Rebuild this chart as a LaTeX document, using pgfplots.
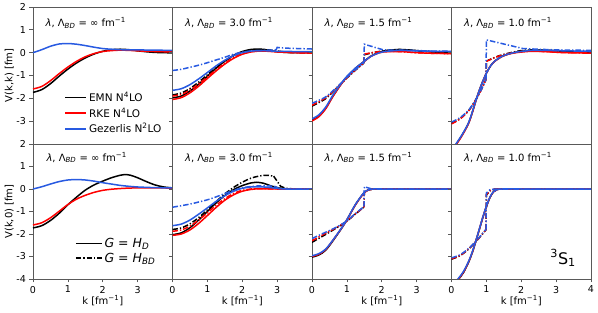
\documentclass[border=0pt]{standalone}
\usepackage{fontspec}
\setmainfont{DejaVu Sans}
\usepackage{pgfplots}
\pgfplotsset{compat=1.18}
\definecolor{myblue}{RGB}{40,90,225}
\newcommand{\lam}[1]{\textit{λ}, Λ\textsubscript{\textit{BD}} = #1 fm\textsuperscript{−1}}
\tikzset{ptext/.style={anchor=west, font=\fontsize{10}{11}\selectfont}}
\pgfplotsset{
 emn/.style={black, line width=1.5pt},
 rke/.style={red, line width=1.5pt},
 gez/.style={myblue, line width=1.5pt},
 dd/.style={dash pattern=on 5.5pt off 2pt on 1.3pt off 2pt},
 sm/.style={smooth, tension=0.5},
 panel/.style={scale only axis, width=139.5pt, xmin=0, xmax=4, ymin=-4, ymax=2,
   axis line style={black!65, line width=0.8pt},
   tick align=outside, xtick pos=bottom, ytick pos=left, major tick length=3.5pt,
   tick style={black!65, line width=0.7pt},
   ticklabel style={font=\fontsize{9.5}{10}\selectfont},
   /pgf/number format/assume math mode=true,
   ytick={-4,...,2},
   label style={font=\fontsize{13}{14}\selectfont},
   every axis y label/.style={at={(axis description cs:-0.17,0.5)}, rotate=90, anchor=center},
   every axis x label/.style={at={(axis description cs:0.5,-0.162)}, anchor=center},
 },
 toprow/.style={panel, height=137pt, xtick=\empty},
 botrow/.style={panel, height=135pt, xlabel={k [fm\textsuperscript{−1}]}, xtick={0,1,2,3}},
}
\begin{document}
\begin{tikzpicture}
\useasboundingbox (0,0) rectangle (598pt,313pt);
%================ TOP ROW =================
\begin{axis}[toprow, at={(33pt,169pt)}, anchor=south west, ytick={-3,...,2}, ylabel={V(k,k) [fm]},
  legend style={at={(0.225,0.395)}, anchor=north west, draw=none, fill=none, font=\fontsize{10.5}{11}\selectfont, inner sep=0pt, row sep=0.8pt, /tikz/every even column/.append style={column sep=7pt}},
  legend cell align=left,
  legend image code/.code={\draw[#1] (0pt,0pt) -- (21pt,0pt);}]
\addlegendimage{emn}\addlegendentry{EMN N\textsuperscript{4}LO}
\addlegendimage{rke}\addlegendentry{RKE N\textsuperscript{4}LO}
\addlegendimage{gez}\addlegendentry{Gezerlis N\textsuperscript{2}LO}
\addplot[emn,sm] coordinates {(0,-1.74)(0.25,-1.62)(0.5,-1.36)(0.75,-1.03)(1,-0.72)(1.25,-0.45)(1.5,-0.23)(1.75,-0.06)(2,0.06)(2.25,0.13)(2.5,0.15)(2.75,0.13)(3,0.08)(3.25,0.04)(3.5,0.01)(3.75,0)(4,-0.01)};
\addplot[rke,sm] coordinates {(0,-1.59)(0.25,-1.48)(0.5,-1.23)(0.75,-0.92)(1,-0.63)(1.25,-0.38)(1.5,-0.18)(1.75,-0.04)(2,0.05)(2.25,0.09)(2.5,0.11)(2.75,0.1)(3,0.08)(3.25,0.06)(3.5,0.05)(3.75,0.04)(4,0.03)};
\addplot[gez,sm] coordinates {(0,0)(0.25,0.13)(0.5,0.28)(0.75,0.38)(1,0.4)(1.25,0.37)(1.5,0.31)(1.75,0.24)(2,0.18)(2.25,0.15)(2.5,0.13)(2.75,0.12)(3,0.12)(3.5,0.11)(4,0.1)};
\node[ptext] at (rel axis cs:0.065,0.883) {\lam{∞}};
\end{axis}

\begin{axis}[toprow, at={(172.5pt,169pt)}, anchor=south west, yticklabels={}]
\addplot[emn,sm] coordinates {(0,-1.98)(0.25,-1.9)(0.5,-1.68)(0.75,-1.38)(1,-1.03)(1.25,-0.68)(1.5,-0.37)(1.75,-0.12)(2,0.05)(2.25,0.14)(2.5,0.16)(2.75,0.11)(3,0.04)(3.25,0.01)(3.5,0)(4,0)};
\addplot[emn,dd,sm] coordinates {(0,-1.85)(0.25,-1.77)(0.5,-1.57)(0.75,-1.29)(1,-0.97)(1.25,-0.65)(1.5,-0.37)(1.75,-0.14)(2,0.02)(2.25,0.1)(2.5,0.13)(2.75,0.12)(3,0.07)(3.25,0.03)(3.5,0.01)(4,0)};
\addplot[rke,sm] coordinates {(0,-2.05)(0.25,-1.97)(0.5,-1.76)(0.75,-1.47)(1,-1.13)(1.25,-0.8)(1.5,-0.5)(1.75,-0.25)(2,-0.07)(2.25,0.03)(2.5,0.07)(2.75,0.06)(3,0.03)(3.5,0)(4,-0.02)};
\addplot[rke,dd,sm] coordinates {(0,-1.9)(0.25,-1.83)(0.5,-1.64)(0.75,-1.37)(1,-1.06)(1.25,-0.75)(1.5,-0.46)(1.75,-0.22)(2,-0.05)(2.25,0.04)(2.5,0.07)(2.75,0.07)(3,0.05)(3.5,0)(4,-0.02)};
\addplot[gez,sm] coordinates {(0,-1.65)(0.25,-1.58)(0.5,-1.4)(0.75,-1.15)(1,-0.87)(1.25,-0.58)(1.5,-0.33)(1.75,-0.13)(2,0)(2.25,0.07)(2.5,0.09)(2.75,0.08)(3,0.06)(3.5,0.05)(4,0.05)};
\addplot[gez,dd,sm] coordinates {(0,-0.78)(0.25,-0.73)(0.5,-0.64)(0.75,-0.55)(1,-0.44)(1.25,-0.32)(1.5,-0.2)(1.75,-0.07)(2,0.02)(2.25,0.07)(2.5,0.09)(2.75,0.11)(2.97,0.12)};
\addplot[gez,dd,sharp plot] coordinates {(2.97,0.12)(3,0.23)(3.2,0.2)(3.6,0.18)(4,0.16)};
\node[ptext] at (rel axis cs:0.065,0.883) {\lam{3.0}};
\end{axis}

\begin{axis}[toprow, at={(312pt,169pt)}, anchor=south west, yticklabels={}]
\addplot[emn,sm] coordinates {(0,-2.97)(0.2,-2.78)(0.4,-2.42)(0.6,-1.9)(0.86,-1.32)(1,-1.06)(1.25,-0.68)(1.48,-0.4)(1.67,-0.17)(1.85,-0.03)(2.05,0.07)(2.5,0.14)(3,0.09)(3.5,0.03)(4,0.01)};
\addplot[emn,dd,sm] coordinates {(0,-2.34)(0.38,-2.03)(0.6,-1.72)(0.86,-1.33)(1,-1.11)(1.25,-0.76)(1.49,-0.45)};
\addplot[emn,dd,sharp plot] coordinates {(1.49,-0.45)(1.5,-0.09)};
\addplot[emn,dd,sm] coordinates {(1.5,-0.09)(1.75,0.0)(2.05,0.08)(2.5,0.13)(3,0.09)(3.5,0.03)(4,0.01)};
\addplot[rke,sm] coordinates {(0,-2.99)(0.2,-2.8)(0.4,-2.44)(0.6,-1.92)(0.86,-1.33)(1,-1.07)(1.25,-0.69)(1.48,-0.41)(1.67,-0.18)(1.85,-0.05)(2.05,0.03)(2.5,0.05)(3,0.0)(3.5,-0.03)(4,-0.04)};
\addplot[rke,dd,sm] coordinates {(0,-2.3)(0.38,-1.99)(0.6,-1.7)(0.86,-1.32)(1,-1.1)(1.25,-0.75)(1.49,-0.44)};
\addplot[rke,dd,sharp plot] coordinates {(1.49,-0.44)(1.5,-0.07)};
\addplot[rke,dd,sm] coordinates {(1.5,-0.07)(1.75,0.01)(2.05,0.05)(2.5,0.05)(3,0.0)(3.5,-0.03)(4,-0.04)};
\addplot[gez,sm] coordinates {(0,-2.9)(0.2,-2.72)(0.4,-2.37)(0.6,-1.86)(0.86,-1.3)(1,-1.04)(1.25,-0.67)(1.48,-0.4)(1.67,-0.18)(1.85,-0.05)(2.05,0.04)(2.5,0.1)(3,0.08)(3.5,0.06)(4,0.05)};
\addplot[gez,dd,sm] coordinates {(0,-2.22)(0.38,-1.95)(0.6,-1.67)(0.86,-1.3)(1,-1.08)(1.25,-0.74)(1.49,-0.44)};
\addplot[gez,dd,sharp plot] coordinates {(1.49,-0.44)(1.5,0.37)(2.05,0.12)(2.5,0.11)(3,0.09)(3.5,0.07)(4,0.06)};
\node[ptext] at (rel axis cs:0.065,0.883) {\lam{1.5}};
\end{axis}

\begin{axis}[toprow, at={(451.5pt,169pt)}, anchor=south west, yticklabels={}]
\addplot[emn,sm] coordinates {(0,-4.35)(0.14,-4.0)(0.3,-3.62)(0.48,-3.12)(0.6,-2.6)(0.72,-2.0)(0.86,-1.4)(1,-0.9)(1.12,-0.58)(1.24,-0.37)(1.45,-0.16)(1.63,-0.06)(1.85,0.02)(2.3,0.1)(2.75,0.1)(3.25,0.06)(4,0.02)};
\addplot[emn,dd,sm] coordinates {(0,-3.1)(0.25,-2.88)(0.5,-2.52)(0.72,-2.0)(0.86,-1.6)(0.99,-1.17)};
\addplot[emn,dd,sharp plot] coordinates {(0.99,-1.17)(1.0,-0.37)};
\addplot[emn,dd,sm] coordinates {(1.0,-0.37)(1.34,-0.15)(1.7,0.0)(2.05,0.1)(2.5,0.12)(3,0.08)(3.5,0.04)(4,0.02)};
\addplot[rke,sm] coordinates {(0,-4.37)(0.14,-4.02)(0.3,-3.64)(0.48,-3.13)(0.6,-2.61)(0.72,-2.0)(0.86,-1.4)(1,-0.9)(1.12,-0.58)(1.24,-0.38)(1.45,-0.17)(1.63,-0.07)(1.85,0.0)(2.3,0.06)(2.75,0.04)(3.25,0.0)(4,-0.02)};
\addplot[rke,dd,sm] coordinates {(0,-3.12)(0.25,-2.9)(0.5,-2.53)(0.72,-2.0)(0.86,-1.6)(0.99,-1.17)};
\addplot[rke,dd,sharp plot] coordinates {(0.99,-1.17)(1.0,-0.38)};
\addplot[rke,dd,sm] coordinates {(1.0,-0.38)(1.34,-0.16)(1.7,-0.02)(2.05,0.06)(2.5,0.06)(3,0.02)(3.5,0.0)(4,-0.02)};
\addplot[gez,sm] coordinates {(0,-4.3)(0.14,-3.97)(0.3,-3.6)(0.48,-3.1)(0.6,-2.58)(0.72,-1.99)(0.86,-1.4)(1,-0.9)(1.12,-0.58)(1.24,-0.37)(1.45,-0.16)(1.63,-0.06)(1.85,0.02)(2.3,0.1)(2.75,0.1)(3.25,0.08)(4,0.06)};
\addplot[gez,dd,sm] coordinates {(0,-3.04)(0.25,-2.84)(0.5,-2.5)(0.72,-2.0)(0.86,-1.6)(0.99,-1.17)};
\addplot[gez,dd,sharp plot] coordinates {(0.99,-1.17)(1.0,0.56)(2.05,0.18)(2.5,0.15)(3,0.12)(3.5,0.11)(4,0.1)};
\node[ptext] at (rel axis cs:0.065,0.883) {\lam{1.0}};
\end{axis}

%================ BOTTOM ROW =================
\begin{axis}[botrow, at={(33pt,34pt)}, anchor=south west, ylabel={V(k,0) [fm]},
  legend style={at={(0.3,0.32)}, anchor=north west, draw=none, fill=none, font=\fontsize{12.5}{13}\selectfont, inner sep=0pt, row sep=0pt, /tikz/every even column/.append style={column sep=9pt}},
  legend cell align=left,
  legend image code/.code={\draw[#1] (0pt,0pt) -- (26pt,0pt);}]
\addlegendimage{emn}\addlegendentry{\textit{G} = \textit{H}\textsubscript{\textit{D}}}
\addlegendimage{emn,dd}\addlegendentry{\textit{G} = \textit{H}\textsubscript{\textit{BD}}}
\addplot[emn,sm] coordinates {(0,-1.73)(0.25,-1.63)(0.5,-1.4)(0.75,-1.08)(1,-0.7)(1.25,-0.36)(1.5,-0.05)(1.75,0.18)(2,0.35)(2.25,0.5)(2.5,0.61)(2.65,0.64)(2.8,0.61)(3,0.5)(3.25,0.33)(3.5,0.18)(3.75,0.09)(4,0.05)};
\addplot[rke,sm] coordinates {(0,-1.6)(0.25,-1.5)(0.5,-1.28)(0.75,-0.99)(1,-0.69)(1.25,-0.45)(1.5,-0.28)(1.75,-0.15)(2,-0.06)(2.25,-0.01)(2.5,0.02)(2.75,0.04)(3,0.05)(3.5,0.05)(4,0.04)};
\addplot[gez,sm] coordinates {(0,0)(0.25,0.1)(0.5,0.22)(0.75,0.33)(1,0.4)(1.25,0.42)(1.5,0.4)(1.75,0.35)(2,0.28)(2.25,0.22)(2.5,0.16)(2.75,0.12)(3,0.09)(3.5,0.06)(4,0.05)};
\node[ptext] at (rel axis cs:0.072,0.9) {\lam{∞}};
\end{axis}

\begin{axis}[botrow, at={(172.5pt,34pt)}, anchor=south west, yticklabels={}]
\addplot[emn,sm] coordinates {(0,-2.03)(0.25,-1.95)(0.5,-1.72)(0.75,-1.38)(1,-1.0)(1.25,-0.62)(1.5,-0.29)(1.75,-0.03)(2,0.15)(2.25,0.27)(2.4,0.3)(2.6,0.26)(2.8,0.15)(3,0.06)(3.25,0.01)(3.5,0)(4,0)};
\addplot[emn,dd,sm] coordinates {(0,-1.8)(0.25,-1.73)(0.5,-1.55)(0.75,-1.27)(1,-0.93)(1.25,-0.56)(1.5,-0.22)(1.75,0.07)(2,0.3)(2.25,0.48)(2.5,0.58)(2.7,0.61)(2.9,0.57)};
\addplot[emn,dd,sharp plot] coordinates {(2.9,0.57)(3.0,0.35)(3.1,0.12)(3.25,0.03)(3.5,0)(4,0)};
\addplot[rke,sm] coordinates {(0,-2.06)(0.25,-2.0)(0.5,-1.82)(0.75,-1.53)(1,-1.18)(1.25,-0.82)(1.5,-0.5)(1.75,-0.26)(2,-0.1)(2.25,-0.02)(2.5,0.01)(3,0)(4,0)};
\addplot[rke,dd,sm] coordinates {(0,-1.88)(0.25,-1.82)(0.5,-1.65)(0.75,-1.38)(1,-1.06)(1.25,-0.72)(1.5,-0.43)(1.75,-0.2)(2,-0.06)(2.25,0.0)(2.5,0.02)(3,0)(4,0)};
\addplot[gez,sm] coordinates {(0,-1.63)(0.25,-1.56)(0.5,-1.38)(0.75,-1.12)(1,-0.84)(1.25,-0.55)(1.5,-0.3)(1.75,-0.1)(2,0.03)(2.25,0.09)(2.5,0.1)(2.75,0.07)(3,0.03)(3.25,0)(4,0)};
\addplot[gez,dd,sm] coordinates {(0,-0.81)(0.5,-0.67)(1,-0.48)(1.25,-0.35)(1.5,-0.2)(1.75,-0.06)(2,0.05)(2.25,0.11)(2.5,0.14)(2.75,0.14)(2.95,0.11)};
\addplot[gez,dd,sharp plot] coordinates {(2.95,0.11)(3.05,0.02)(3.25,0)(4,0)};
\node[ptext] at (rel axis cs:0.065,0.9) {\lam{3.0}};
\end{axis}

\begin{axis}[botrow, at={(312pt,34pt)}, anchor=south west, yticklabels={}]
\addplot[emn,sm] coordinates {(0,-3.03)(0.2,-2.93)(0.4,-2.71)(0.67,-2.15)(0.96,-1.48)(1.24,-0.71)(1.48,-0.19)(1.6,-0.06)(1.75,0)(2,0)(3,0)(4,0)};
\addplot[emn,dd,sm] coordinates {(0,-2.37)(0.38,-2.03)(0.67,-1.76)(0.96,-1.48)(1.2,-1.17)(1.49,-0.8)};
\addplot[emn,dd,sharp plot] coordinates {(1.49,-0.8)(1.5,-0.15)(1.6,-0.05)(1.75,0)(4,0)};
\addplot[rke,sm] coordinates {(0,-3.0)(0.2,-2.9)(0.4,-2.68)(0.67,-2.13)(0.96,-1.48)(1.24,-0.72)(1.48,-0.2)(1.6,-0.06)(1.75,0)(2,0)(3,0)(4,0)};
\addplot[rke,dd,sm] coordinates {(0,-2.3)(0.38,-1.98)(0.67,-1.74)(0.96,-1.47)(1.2,-1.16)(1.49,-0.8)};
\addplot[rke,dd,sharp plot] coordinates {(1.49,-0.8)(1.5,-0.15)(1.6,-0.05)(1.75,0)(4,0)};
\addplot[gez,sm] coordinates {(0,-2.97)(0.2,-2.87)(0.4,-2.66)(0.67,-2.12)(0.96,-1.47)(1.24,-0.7)(1.48,-0.18)(1.6,-0.05)(1.75,0)(2,0)(3,0)(4,0)};
\addplot[gez,dd,sm] coordinates {(0,-2.2)(0.38,-1.93)(0.67,-1.72)(0.96,-1.46)(1.2,-1.15)(1.49,-0.78)};
\addplot[gez,dd,sharp plot] coordinates {(1.49,-0.78)(1.5,0.1)(1.72,0)(4,0)};
\node[ptext] at (rel axis cs:0.065,0.9) {\lam{1.5}};
\end{axis}

\begin{axis}[botrow, at={(451.5pt,34pt)}, anchor=south west, yticklabels={}, xtick={0,1,2,3,4}]
\addplot[emn,sm] coordinates {(0,-4.42)(0.2,-4.02)(0.35,-3.7)(0.5,-3.22)(0.6,-2.81)(0.7,-2.31)(0.8,-1.79)(0.9,-1.26)(1,-0.79)(1.1,-0.39)(1.2,-0.13)(1.3,-0.03)(1.45,0)(2,0)(3,0)(4,0)};
\addplot[emn,dd,sm] coordinates {(0,-3.12)(0.25,-2.96)(0.5,-2.66)(0.7,-2.34)(0.85,-2.07)(0.99,-1.81)};
\addplot[emn,dd,sharp plot] coordinates {(0.99,-1.81)(1.0,-0.27)(1.1,-0.08)(1.25,0)(4,0)};
\addplot[rke,sm] coordinates {(0,-4.4)(0.2,-4.0)(0.35,-3.68)(0.5,-3.2)(0.6,-2.8)(0.7,-2.3)(0.8,-1.78)(0.9,-1.25)(1,-0.78)(1.1,-0.38)(1.2,-0.13)(1.3,-0.03)(1.45,0)(2,0)(3,0)(4,0)};
\addplot[rke,dd,sm] coordinates {(0,-3.1)(0.25,-2.95)(0.5,-2.65)(0.7,-2.33)(0.85,-2.06)(0.99,-1.8)};
\addplot[rke,dd,sharp plot] coordinates {(0.99,-1.8)(1.0,-0.25)(1.1,-0.07)(1.25,0)(4,0)};
\addplot[gez,sm] coordinates {(0,-4.36)(0.2,-3.97)(0.35,-3.65)(0.5,-3.18)(0.6,-2.78)(0.7,-2.29)(0.8,-1.77)(0.9,-1.24)(1,-0.77)(1.1,-0.37)(1.2,-0.12)(1.3,-0.03)(1.45,0)(2,0)(3,0)(4,0)};
\addplot[gez,dd,sm] coordinates {(0,-3.06)(0.25,-2.92)(0.5,-2.63)(0.7,-2.32)(0.85,-2.05)(0.99,-1.79)};
\addplot[gez,dd,sharp plot] coordinates {(0.99,-1.79)(1.0,-0.18)(1.1,-0.04)(1.25,0)(4,0)};
\node[ptext] at (rel axis cs:0.065,0.9) {\lam{1.0}};
\node[font=\fontsize{16}{17}\selectfont] at (rel axis cs:0.8,0.155) {\textsuperscript{3}S\textsubscript{1}};
\end{axis}
\end{tikzpicture}
\end{document}
